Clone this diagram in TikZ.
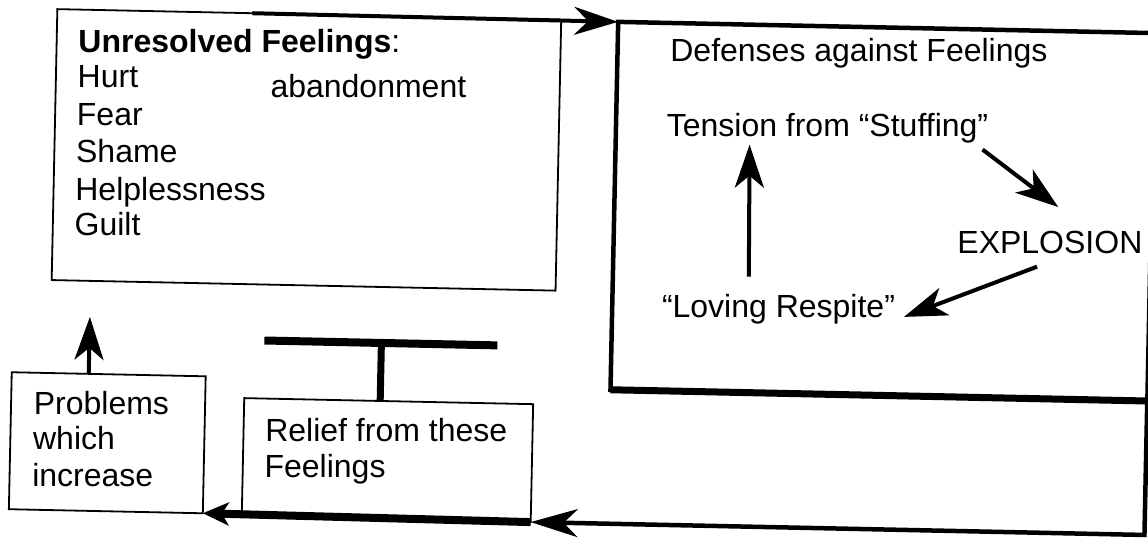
\documentclass[tikz,border=0pt]{standalone}
\usepackage{fontspec}
\setmainfont{Liberation Sans}
\usetikzlibrary{arrows.meta,calc}
\begin{document}
\begin{tikzpicture}[x=1pt,y=1pt,
  txt/.style={inner sep=0pt, outer sep=0pt, anchor=base west, font=\fontsize{32}{37}\selectfont},
  thinbox/.style={draw, line width=1.8pt, inner sep=0pt, outer sep=0pt, transform shape},
  thickbox/.style={draw, line width=4.5pt, inner sep=0pt, outer sep=0pt, transform shape},
  head/.style={-{Stealth[length=43pt,width=29pt,inset=12pt]}},
  smallhead/.style={-{Stealth[length=26pt,width=23pt,inset=7pt]}},
  conn/.style={line width=4pt, head},
]
\useasboundingbox (0,0) rectangle (1148,-538);
\clip (0,0) rectangle (1148,-538);
\fill[white] (0,0) rectangle (1148,-538);
\begin{scope}[rotate around={-1.2:(574,-269)}]
  % boxes
  \node[thinbox, minimum width=504pt, minimum height=271pt] (unres) at (304,-155.5) {};
  \node[thickbox, minimum width=537pt, minimum height=368pt] (def) at (881.5,-205) {};
  \node[thinbox, minimum width=194pt, minimum height=137pt] (prob) at (111,-452.5) {};
  \node[thinbox, minimum width=289pt, minimum height=118pt] (relief) at (391.5,-464) {};
  \draw[line width=7pt] (def.south west) -- (def.south east);

  % texts of the left box
  \node[txt] (u0) at (74,-63.4) {\textbf{Unresolved Feelings}:};
  \node[txt] (u1) at (74,-98.4) {Hurt};
  \node[txt] (u6) at (267,-104.3) {abandonment};
  \node[txt] (u2) at (74,-136.4) {Fear};
  \node[txt] (u3) at (74,-173.4) {Shame};
  \node[txt] (u4) at (74,-210.5) {Helplessness};
  \node[txt] (u5) at (74,-245.5) {Guilt};

  % texts of the right box
  \node[txt] (dtitle) at (666,-60) {Defenses against Feelings};
  \node[txt] (tens) at (664,-135) {Tension from “Stuffing”};
  \node[txt] (expl) at (957,-245) {EXPLOSION};
  \node[txt] (lov) at (663,-316) {“Loving Respite”};

  % texts of the small boxes
  \node[txt] (p1) at (37,-426) {Problems};
  \node[txt] (p2) at (37,-461) {which};
  \node[txt] (p3) at (37,-498) {increase};
  \node[txt] (r1) at (269,-448) {Relief from these};
  \node[txt] (r2) at (269,-484) {Feelings};

  % top arrow into the defenses box
  \draw[line width=4pt, -{Stealth[length=44pt,width=28pt,inset=14pt]}]
    ($(unres.north west)+(195,0)$) -- (def.north west);

  % cycle inside the defenses box
  \draw[conn] ($(lov.base west)+(86,43)$) -- ($(tens.base west)+(83,-6)$);
  \draw[conn] ($(tens.base west)+(316,-6)$) -- ($(expl.base west)+(100,48)$);
  \draw[conn] ($(expl.base west)+(80,-12)$) -- ($(lov.base west)+(242,6)$);

  % return path along the bottom
  \draw[line width=4.5pt, -{Stealth[length=47pt,width=28pt,inset=14pt]}]
    (def.south east) |- (relief.south east);
  \draw[line width=8pt, smallhead] (relief.south east) -- (prob.south east);

  % problems increase -> unresolved feelings
  \draw[conn] ($(prob.north west)+(77,0)$) -- ($(unres.south west)+(39,-36)$);

  % blocking bar over relief
  \coordinate (barL) at (266,-347);
  \coordinate (barR) at (499,-347);
  \coordinate (barC) at (383,-347);
  \draw[line width=8pt] (barL) -- (barR);
  \draw[line width=7pt] ($(relief.north west)+(136,0)$) -- (barC);
\end{scope}
\end{tikzpicture}
\end{document}
